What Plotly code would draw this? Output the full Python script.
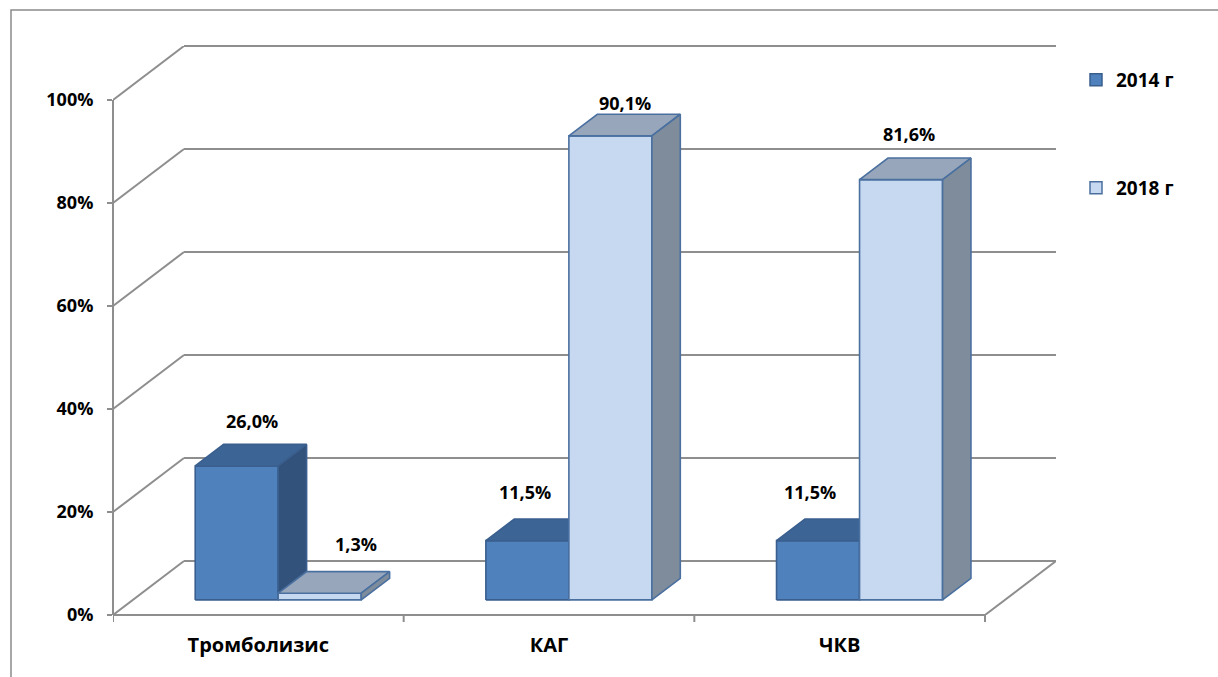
import plotly.graph_objects as go

# ---- data ----
categories = ["Тромболизис", "КАГ", "ЧКВ"]
series_names = ["2014 г", "2018 г"]
values_2014 = [26.0, 11.5, 11.5]
values_2018 = [1.3, 90.1, 81.6]
y_ticks = [0, 20, 40, 60, 80, 100]

# ---- styles ----
FONT = "Open Sans"
GRID = "#8E8E8E"
FRAME = "#8A8A8A"
palette = [
    dict(front="#4F81BD", top="#3C6494", side="#32527B", edge="#3A5F8E"),
    dict(front="#C6D9F1", top="#97A6BA", side="#7E8C9C", edge="#4A70A0"),
]
# per-label nudges (px) of the value labels above the box tops
label_dx = [[1, -17, -22], [22, 0, -6]]
label_dy = [[23, 27, 27], [28, 11, 24]]

# ---- page / projection geometry ----
W, H = 1218, 677
FRONT_W = 872          # width of the front floor edge, px
DEPTH_PX = (71, 54)    # oblique offset from front to back wall, px
M = dict(l=113, t=46, b=62)
plot_h = H - M["t"] - M["b"]
plot_w = FRONT_W + DEPTH_PX[0]
M["r"] = W - M["l"] - plot_w

n = len(categories)
X0, X1 = -0.5, n - 0.5
px_per_cat = FRONT_W / n
px_per_pct = (plot_h - DEPTH_PX[1]) / 100.0
DX = DEPTH_PX[0] / px_per_cat      # depth offset in category units
DY = DEPTH_PX[1] / px_per_pct      # depth offset in percent units
Y_MAX = 100 + DY

BAR_W = 0.2856                     # bar width, category units
D0, D1 = 0.28, 0.68                # depth slab occupied by the boxes


def yp(v):
    """percent value -> paper y"""
    return v / Y_MAX


def pxp(px):
    return (px - M["l"]) / plot_w


def pyp(py):
    return (H - M["b"] - py) / plot_h


fig = go.Figure()

label_annots = []
for i, cat in enumerate(categories):
    for s, vals in enumerate([values_2014, values_2018]):
        v = vals[i]
        c = palette[s]
        xl = i - BAR_W + s * BAR_W + D0 * DX
        xr = xl + BAR_W
        yb = D0 * DY
        yt = v + D0 * DY
        ddx, ddy = (D1 - D0) * DX, (D1 - D0) * DY
        faces = [
            ([xl, xr, xr, xl], [yb, yb, yt, yt], c["front"]),
            ([xl, xr, xr + ddx, xl + ddx], [yt, yt, yt + ddy, yt + ddy], c["top"]),
            ([xr, xr + ddx, xr + ddx, xr], [yb, yb + ddy, yt + ddy, yt], c["side"]),
        ]
        for k, (xs, ys, col) in enumerate(faces):
            fig.add_trace(go.Scatter(
                x=xs + [xs[0]], y=ys + [ys[0]],
                mode="lines", fill="toself", fillcolor=col,
                line=dict(color=c["edge"], width=1.6),
                name=series_names[s], showlegend=False,
                hoveron="fills",
                hoverinfo="text" if k == 0 else "skip",
                text=f"{cat}, {series_names[s]}: {v:.1f}%".replace(".", ","),
            ))
        label_annots.append(dict(
            x=(xl + xr) / 2 + ddx / 2, y=yt + ddy,
            xref="x", yref="y",
            text=f"{v:.1f}%".replace(".", ","),
            showarrow=False,
            xshift=label_dx[s][i], yshift=label_dy[s][i],
            font=dict(family=FONT, size=18, color="black", weight="bold"),
        ))

# legend entries
for s, name in enumerate(series_names):
    c = palette[s]
    fig.add_trace(go.Scatter(
        x=[None], y=[None], mode="markers", name=name,
        marker=dict(symbol="square", size=12, color=c["front"],
                    line=dict(color=c["edge"], width=1.5)),
        legend="legend" if s == 0 else "legend2",
    ))

shapes = []
gl = dict(color=GRID, width=2)
# back wall gridlines and side wall lines
for v in y_ticks:
    shapes.append(dict(type="line", xref="x", yref="paper",
                       x0=X0 + DX, x1=X1 + DX, y0=yp(v + DY), y1=yp(v + DY),
                       line=gl, layer="below"))
    shapes.append(dict(type="line", xref="x", yref="y",
                       x0=X0, x1=X0 + DX, y0=v, y1=v + DY,
                       line=gl, layer="below"))
# front value axis
shapes.append(dict(type="line", xref="paper", yref="y", x0=0, x1=0,
                   y0=0, y1=y_ticks[-1], line=gl, layer="below"))
# floor front and right edges
shapes.append(dict(type="line", xref="x", yref="paper", x0=X0, x1=X1,
                   y0=0, y1=0, line=gl, layer="below"))
shapes.append(dict(type="line", xref="x", yref="y", x0=X1, x1=X1 + DX,
                   y0=0, y1=DY, line=gl, layer="below"))
# category boundary ticks
for k in range(n + 1):
    shapes.append(dict(type="line", xref="x", yref="paper",
                       x0=X0 + k, x1=X0 + k, y0=0, y1=-7 / plot_h,
                       line=gl, layer="below"))
# chart frame
shapes.append(dict(type="rect", xref="paper", yref="paper",
                   x0=pxp(11), x1=pxp(1260), y0=pyp(10), y1=pyp(720),
                   line=dict(color=FRAME, width=1.5), layer="below"))

legend_common = dict(
    xanchor="left", yanchor="middle", x=pxp(1076),
    font=dict(family=FONT, size=19, color="black", weight="bold"),
    bgcolor="rgba(0,0,0,0)", borderwidth=0, itemwidth=30,
)

fig.update_layout(
    width=W, height=H, autosize=False,
    margin=M,
    paper_bgcolor="white", plot_bgcolor="white",
    shapes=shapes,
    annotations=label_annots,
    showlegend=True,
    legend=dict(y=pyp(80), **legend_common),
    legend2=dict(y=pyp(188), **legend_common),
    xaxis=dict(
        range=[X0, X1 + DX], tickmode="array", tickvals=list(range(n)),
        ticktext=categories, showgrid=False, zeroline=False, showline=False,
        ticks="", ticklabelstandoff=16,
        tickfont=dict(family=FONT, size=20, color="black", weight="bold"),
        fixedrange=True,
    ),
    yaxis=dict(
        range=[0, Y_MAX], tickmode="array", tickvals=y_ticks,
        ticktext=[f"{v}%" for v in y_ticks],
        showgrid=False, zeroline=False, showline=False,
        ticks="outside", ticklen=5, tickwidth=2, tickcolor=GRID,
        ticklabelstandoff=10,
        tickfont=dict(family=FONT, size=18, color="black", weight="bold"),
        fixedrange=True,
    ),
)

fig.write_html("out.html")
